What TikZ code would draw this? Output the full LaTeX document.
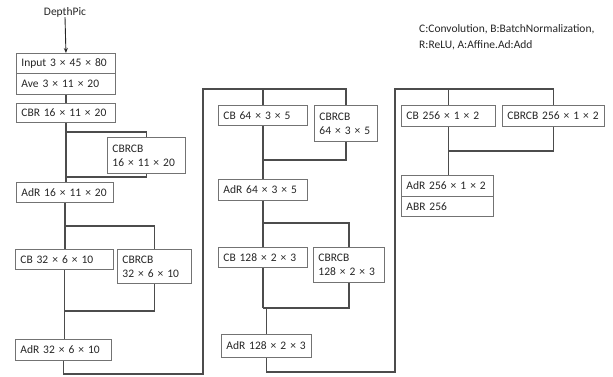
\documentclass[tikz,border=0pt]{standalone}
\usepackage{fontspec}
\setmainfont{Carlito}
\usetikzlibrary{arrows.meta}
\newcommand{\by}{\kern4pt×\kern4pt}
\begin{document}
\begin{tikzpicture}[
    x=1pt, y=-1pt,
    box/.style={
      rectangle, draw=black!55, line width=0.9pt, fill=white,
      anchor=north west, text width=#1, minimum height=20pt,
      inner xsep=5pt, inner ysep=1pt, align=left,
      font=\fontsize{11.5}{14}\selectfont, text=black!85
    },
    tag/.style={font=\fontsize{11.5}{16}\selectfont, text=black!85, align=left, inner sep=0pt},
    link/.style={-, draw=black!70, line width=1.1pt},
    arr/.style={-{Stealth[length=5pt,width=4pt]}, draw=black!85, line width=0.9pt}
  ]
    \useasboundingbox (0,0) rectangle (613,376);

    \node[tag] (pic) at (65,12) {DepthPic};
    \node[tag, anchor=north west] (key) at (419,24) {%
      C:Convolution, B:BatchNormalization,\\R:ReLU, A:Affine.Ad:Add};

    % first column
    \node[box=89pt] (inp) at (16,53) {Input 3\by45\by80};
    \node[box=89pt, minimum height=21pt] (ave) at (16,73) {Ave 3\by11\by20};
    \node[box=89pt, minimum height=19pt] (cbr) at (16,103) {CBR 16\by11\by20};
    \node[box=68pt, minimum height=36pt] (cbrcbA) at (107,137) {CBRCB\\16\by11\by20};
    \node[box=87pt] (adrA) at (16,182) {AdR 16\by11\by20};
    \node[box=88pt] (cbB) at (15,249) {CB 32\by6\by10};
    \node[box=64pt, minimum height=34pt] (cbrcbB) at (117,249) {CBRCB\\32\by6\by10};
    \node[box=86pt, minimum height=21pt] (adrB) at (15,339) {AdR 32\by6\by10};

    % second column
    \node[box=79pt] (cbC) at (218,105) {CB 64\by3\by5};
    \node[box=53pt, minimum height=36pt] (cbrcbC) at (314,105) {CBRCB\\64\by3\by5};
    \node[box=79pt, minimum height=21pt] (adrC) at (218,179) {AdR 64\by3\by5};
    \node[box=79pt] (cbD) at (218,247) {CB 128\by2\by3};
    \node[box=61pt, minimum height=35pt] (cbrcbD) at (313,247) {CBRCB\\128\by2\by3};
    \node[box=80pt, minimum height=23pt] (adrD) at (221,334) {AdR 128\by2\by3};

    % third column
    \node[box=84pt, minimum height=21pt] (cbE) at (401,105) {CB 256\by1\by2};
    \node[box=92pt, minimum height=21pt] (cbrcbE) at (502,105) {CBRCB 256\by1\by2};
    \node[box=82pt, minimum height=21pt] (adrE) at (401,175) {AdR 256\by1\by2};
    \node[box=82pt, minimum height=20pt] (abr) at (401,196) {ABR 256};

    \coordinate (sA) at (cbr.south |- 0,132);
    \coordinate (mA) at (cbr.south |- 0,177);
    \coordinate (sB) at (adrA.south |- 0,226);
    \coordinate (mB) at (cbB.south |- 0,311);
    \coordinate (jA) at (203,374);
    \coordinate (jB) at (203,89);
    \coordinate (mC) at (cbC.south |- 0,160);
    \coordinate (sD) at (adrC.south |- 0,223);
    \coordinate (mD) at (cbD.south |- 0,308);
    \coordinate (jC) at (395,372);
    \coordinate (jD) at (395,89);
    \coordinate (mE) at (cbE.south |- 0,151);

    \draw[arr] (pic.south) -- (inp.north);
    \draw[link] (ave.south) -- (cbr.north);

    \draw[link] (cbr.south) -- (cbr.south |- adrA.north);
    \draw[link] (sA) -| (cbrcbA.north);
    \draw[link] (cbrcbA.south) |- (mA);

    \draw[link] (adrA.south) -- (adrA.south |- cbB.north);
    \draw[link] (sB) -| (cbrcbB.north);
    \draw[link] (cbB.south) -- (cbB.south |- adrB.north);
    \draw[link] (cbrcbB.south) |- (mB);

    \draw[link] (adrB.south) |- (jA) -- (jB) -| (cbrcbC.north);
    \draw[link] (cbC.north |- jB) -- (cbC.north);
    \draw[link] (cbC.south) -- (cbC.south |- adrC.north);
    \draw[link] (cbrcbC.south) |- (mC);

    \draw[link] (adrC.south) -- (adrC.south |- cbD.north);
    \draw[link] (sD) -| (cbrcbD.north);
    \draw[link] (cbD.south) -- (mD);
    \draw[link] (cbrcbD.south) |- (mD);
    \draw[link] (mD) -| (adrD.north);

    \draw[link] (adrD.south) |- (jC) -- (jD) -| (cbrcbE.north);
    \draw[link] (cbE.north |- jD) -- (cbE.north);
    \draw[link] (cbE.south) -- (cbE.south |- adrE.north);
    \draw[link] (cbrcbE.south) |- (mE);
\end{tikzpicture}
\end{document}
